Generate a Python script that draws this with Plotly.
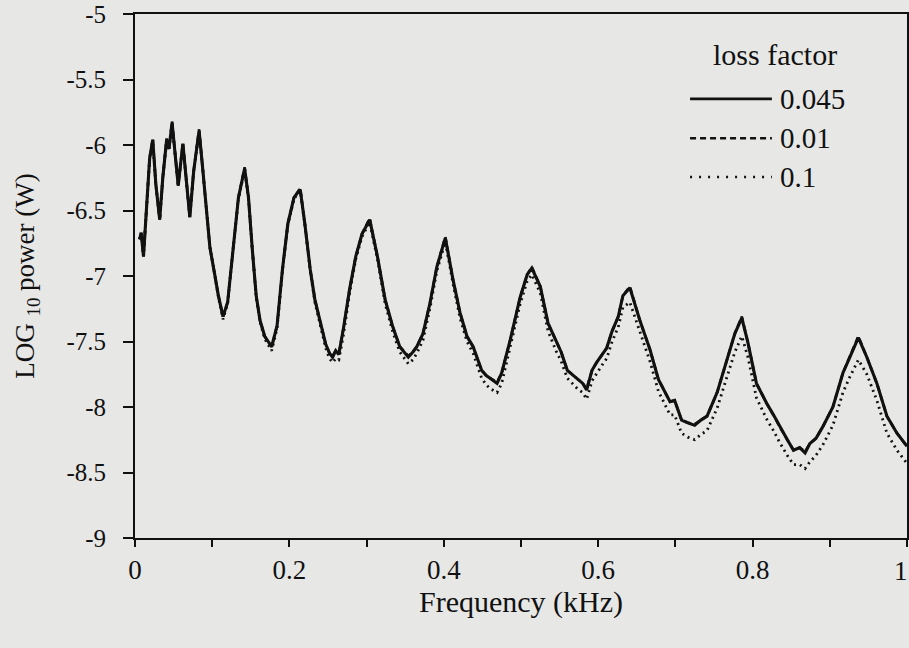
import plotly.graph_objects as go

# Frequency (kHz)
freq = [0.006, 0.008, 0.011, 0.015, 0.019, 0.023, 0.027, 0.032, 0.036, 0.041,
        0.044, 0.048, 0.052, 0.056, 0.062, 0.066, 0.071, 0.076, 0.083, 0.088,
        0.093, 0.097, 0.103, 0.108, 0.114, 0.120, 0.127, 0.134, 0.142, 0.147,
        0.152, 0.157, 0.162, 0.168, 0.177, 0.184, 0.191, 0.198, 0.206, 0.214,
        0.220, 0.227, 0.233, 0.240, 0.247, 0.252, 0.256, 0.260, 0.264, 0.270,
        0.278, 0.286, 0.294, 0.304, 0.314, 0.324, 0.334, 0.343, 0.349, 0.354,
        0.360, 0.365, 0.373, 0.382, 0.391, 0.402, 0.412, 0.421, 0.430, 0.438,
        0.449, 0.455, 0.460, 0.469, 0.475, 0.486, 0.499, 0.508, 0.514, 0.525,
        0.535, 0.546, 0.552, 0.560, 0.573, 0.580, 0.585, 0.592, 0.598, 0.605,
        0.611, 0.618, 0.626, 0.632, 0.641, 0.654, 0.667, 0.678, 0.688, 0.693,
        0.699, 0.708, 0.716, 0.725, 0.733, 0.741, 0.754, 0.767, 0.777, 0.786,
        0.794, 0.805, 0.818, 0.827, 0.835, 0.845, 0.853, 0.861, 0.868, 0.874,
        0.882, 0.891, 0.904, 0.917, 0.926, 0.937, 0.948, 0.961, 0.974, 0.987,
        1.000]

# loss factor 0.045 (solid)
p_045 = [-6.72, -6.67, -6.85, -6.50, -6.10, -5.96, -6.30, -6.57, -6.25, -5.96,
         -6.03, -5.83, -6.05, -6.31, -5.99, -6.25, -6.55, -6.20, -5.89, -6.20,
         -6.55, -6.78, -6.98, -7.15, -7.31, -7.20, -6.80, -6.40, -6.18, -6.40,
         -6.80, -7.15, -7.34, -7.46, -7.54, -7.38, -6.95, -6.60, -6.40, -6.34,
         -6.60, -6.95, -7.18, -7.35, -7.52, -7.59, -7.62, -7.57, -7.60, -7.40,
         -7.10, -6.85, -6.68, -6.57, -6.85, -7.18, -7.39, -7.54, -7.58, -7.62,
         -7.58, -7.54, -7.44, -7.21, -6.93, -6.71, -7.03, -7.28, -7.46, -7.54,
         -7.72, -7.76, -7.78, -7.82, -7.74, -7.49, -7.16, -6.99, -6.94, -7.08,
         -7.36, -7.51, -7.58, -7.72, -7.79, -7.82, -7.87, -7.72, -7.66, -7.60,
         -7.55, -7.42, -7.31, -7.15, -7.09, -7.34, -7.56, -7.79, -7.90, -7.96,
         -7.95, -8.10, -8.12, -8.14, -8.10, -8.07, -7.89, -7.64, -7.44, -7.32,
         -7.51, -7.82, -7.97, -8.06, -8.15, -8.25, -8.33, -8.31, -8.35, -8.28,
         -8.24, -8.15, -8.00, -7.74, -7.62, -7.47, -7.62, -7.82, -8.07, -8.20,
         -8.30]

# loss factor 0.01 (dashed)
p_001 = [-6.72, -6.67, -6.85, -6.50, -6.10, -5.95, -6.30, -6.57, -6.25, -5.95,
         -6.03, -5.82, -6.05, -6.31, -5.98, -6.25, -6.55, -6.20, -5.88, -6.20,
         -6.55, -6.78, -6.98, -7.15, -7.31, -7.20, -6.80, -6.40, -6.17, -6.40,
         -6.80, -7.15, -7.34, -7.46, -7.54, -7.38, -6.95, -6.60, -6.40, -6.33,
         -6.60, -6.95, -7.18, -7.35, -7.52, -7.59, -7.61, -7.57, -7.59, -7.40,
         -7.10, -6.85, -6.68, -6.56, -6.85, -7.18, -7.39, -7.54, -7.58, -7.61,
         -7.58, -7.54, -7.44, -7.21, -6.93, -6.70, -7.03, -7.28, -7.46, -7.54,
         -7.72, -7.76, -7.78, -7.81, -7.74, -7.49, -7.16, -6.99, -6.93, -7.08,
         -7.36, -7.51, -7.58, -7.72, -7.79, -7.82, -7.86, -7.72, -7.66, -7.60,
         -7.55, -7.42, -7.31, -7.15, -7.08, -7.34, -7.56, -7.79, -7.90, -7.96,
         -7.95, -8.10, -8.12, -8.13, -8.10, -8.07, -7.89, -7.64, -7.44, -7.31,
         -7.51, -7.82, -7.97, -8.06, -8.15, -8.25, -8.33, -8.31, -8.34, -8.28,
         -8.24, -8.15, -8.00, -7.74, -7.62, -7.46, -7.62, -7.82, -8.07, -8.20,
         -8.30]

# loss factor 0.1 (dotted)
p_01 = [-6.72, -6.67, -6.85, -6.50, -6.10, -5.97, -6.30, -6.57, -6.25, -5.97,
        -6.03, -5.84, -6.05, -6.31, -6.00, -6.25, -6.55, -6.20, -5.90, -6.20,
        -6.55, -6.78, -6.98, -7.16, -7.33, -7.21, -6.80, -6.41, -6.19, -6.41,
        -6.80, -7.16, -7.35, -7.48, -7.57, -7.40, -6.96, -6.61, -6.41, -6.35,
        -6.61, -6.96, -7.20, -7.38, -7.55, -7.63, -7.66, -7.63, -7.64, -7.45,
        -7.13, -6.87, -6.70, -6.59, -6.87, -7.21, -7.43, -7.58, -7.63, -7.67,
        -7.64, -7.59, -7.49, -7.25, -6.96, -6.74, -7.06, -7.32, -7.50, -7.59,
        -7.78, -7.83, -7.86, -7.89, -7.82, -7.55, -7.21, -7.04, -6.99, -7.13,
        -7.42, -7.58, -7.65, -7.78, -7.86, -7.89, -7.94, -7.80, -7.74, -7.68,
        -7.63, -7.50, -7.39, -7.24, -7.20, -7.43, -7.65, -7.88, -8.00, -8.06,
        -8.06, -8.20, -8.23, -8.25, -8.21, -8.18, -8.01, -7.77, -7.58, -7.46,
        -7.62, -7.93, -8.09, -8.18, -8.27, -8.37, -8.44, -8.44, -8.47, -8.42,
        -8.37, -8.29, -8.14, -7.89, -7.77, -7.64, -7.75, -7.95, -8.20, -8.33,
        -8.43]

series_names = ["0.045", "0.01", "0.1"]
x_tickvals = [0.0, 0.2, 0.4, 0.6, 0.8]
x_ticktext = ["0", "0.2", "0.4", "0.6", "0.8"]
x_last_tick = 1.0
x_last_label = "1"
x_minorvals = [0.1, 0.3, 0.5, 0.7, 0.9, 1.0]
y_tickvals = [-9, -8.5, -8, -7.5, -7, -6.5, -6, -5.5, -5]
y_ticktext = ["-9", "-8.5", "-8", "-7.5", "-7", "-6.5", "-6", "-5.5", "-5"]

INK = "#111111"
BG = "#e7e7e6"
FONT = "Liberation Serif, Times New Roman, serif"

fig = go.Figure()
fig.add_trace(go.Scatter(x=freq, y=p_01, mode="lines", name=series_names[2],
                         line=dict(color=INK, width=2.8, dash="2px,4px")))
fig.add_trace(go.Scatter(x=freq, y=p_001, mode="lines", name=series_names[1],
                         line=dict(color=INK, width=2.6, dash="6px,4px")))
fig.add_trace(go.Scatter(x=freq, y=p_045, mode="lines", name=series_names[0],
                         line=dict(color=INK, width=3.1)))

# manual legend (long line samples like the original)
leg_x0, leg_x1, leg_tx = 0.719, 0.825, 0.833
leg_rows = [(0.838, "solid", series_names[0]),
            (0.763, "6px,4px", series_names[1]),
            (0.689, "2px,7px", series_names[2])]
for yy, dash, label in leg_rows:
    fig.add_shape(type="line", xref="paper", yref="paper",
                  x0=leg_x0, x1=leg_x1, y0=yy, y1=yy,
                  line=dict(color=INK, width=2.6, dash=dash))
    fig.add_annotation(xref="paper", yref="paper", x=leg_tx, y=yy,
                       text=label, showarrow=False, xanchor="left", yanchor="middle",
                       font=dict(family=FONT, size=29, color=INK))
fig.add_annotation(xref="paper", yref="paper", x=0.829, y=0.922,
                   text="loss factor", showarrow=False, xanchor="center", yanchor="middle",
                   font=dict(family=FONT, size=30, color=INK))

# last x tick label, nudged so it stays inside the page edge
fig.add_annotation(xref="x", yref="paper", x=x_last_tick, y=0,
                   text=x_last_label, showarrow=False, xanchor="right", yanchor="middle",
                   xshift=3, yshift=-33,
                   font=dict(family=FONT, size=27, color=INK))

fig.update_layout(
    width=909, height=648,
    margin=dict(l=135, r=2, t=14, b=110, autoexpand=False),
    paper_bgcolor=BG, plot_bgcolor=BG,
    showlegend=False,
    font=dict(family=FONT, color=INK),
    xaxis=dict(range=[0, 1], tickvals=x_tickvals, ticktext=x_ticktext,
               ticks="outside", ticklen=7, tickwidth=2, tickcolor=INK,
               minor=dict(tickvals=x_minorvals, ticks="outside", ticklen=7,
                          tickwidth=2, tickcolor=INK, showgrid=False),
               showline=True, linewidth=2, linecolor=INK, mirror=True,
               showgrid=False, zeroline=False,
               automargin=False,
               tickfont=dict(family=FONT, size=27, color=INK),
               title=dict(text="Frequency (kHz)", standoff=6,
                          font=dict(family=FONT, size=30, color=INK))),
    yaxis=dict(range=[-9, -5], tickvals=y_tickvals, ticktext=y_ticktext,
               ticks="outside", ticklen=10, tickwidth=2, tickcolor=INK,
               showline=True, linewidth=2, linecolor=INK, mirror=True,
               showgrid=False, zeroline=False, ticklabelstandoff=12,
               automargin=False,
               tickfont=dict(family=FONT, size=25, color=INK),
               title=dict(text="LOG <sub>10</sub> power (W)", standoff=24,
                          font=dict(family=FONT, size=27, color=INK))),
)

fig.write_html("out.html")
